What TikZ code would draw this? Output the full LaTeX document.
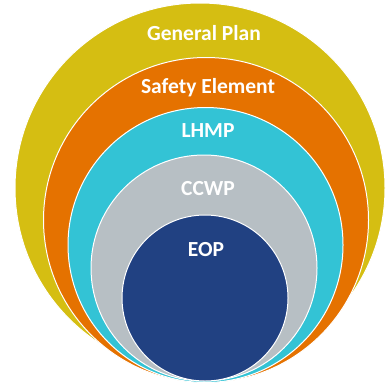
\documentclass[tikz,border=0pt]{standalone}
\usepackage{fontspec}
\setmainfont{Carlito}
\definecolor{planyellow}{HTML}{D5BE12}
\definecolor{safetyorange}{HTML}{E57200}
\definecolor{lhmpcyan}{HTML}{33C3D5}
\definecolor{ccwpgray}{HTML}{B7BFC4}
\definecolor{eopblue}{HTML}{214182}
\begin{document}
\begin{tikzpicture}[x=1pt, y=1pt, ring/.style={circle, draw=white, line width=1pt, inner sep=0pt}, ringlabel/.style={text=white, font=\fontsize{21.5}{21.5}\selectfont\bfseries}]
\useasboundingbox (0,0) rectangle (387,-383);

\node[ring, fill=planyellow, minimum size=370pt] (generalplan) at (200, -188) {};
\node[ring, fill=safetyorange, minimum size=325pt] (safety) at (206, -220) {};
\node[ring, fill=lhmpcyan, minimum size=275pt] (lhmp) at (205.5, -245) {};
\node[ring, fill=ccwpgray, minimum size=226pt] (ccwp) at (204, -268) {};
\node[ring, fill=eopblue, minimum size=166pt] (eop) at (205, -298) {};

\node[ringlabel] (generalplanlabel) at (204, -33) {General Plan};
\node[ringlabel] (safetylabel) at (208, -88) {Safety Element};
\node[ringlabel] (lhmplabel) at (208, -131) {LHMP};
\node[ringlabel] (ccwplabel) at (208, -189) {CCWP};
\node[ringlabel] (eoplabel) at (206, -250) {EOP};

\end{tikzpicture}
\end{document}
